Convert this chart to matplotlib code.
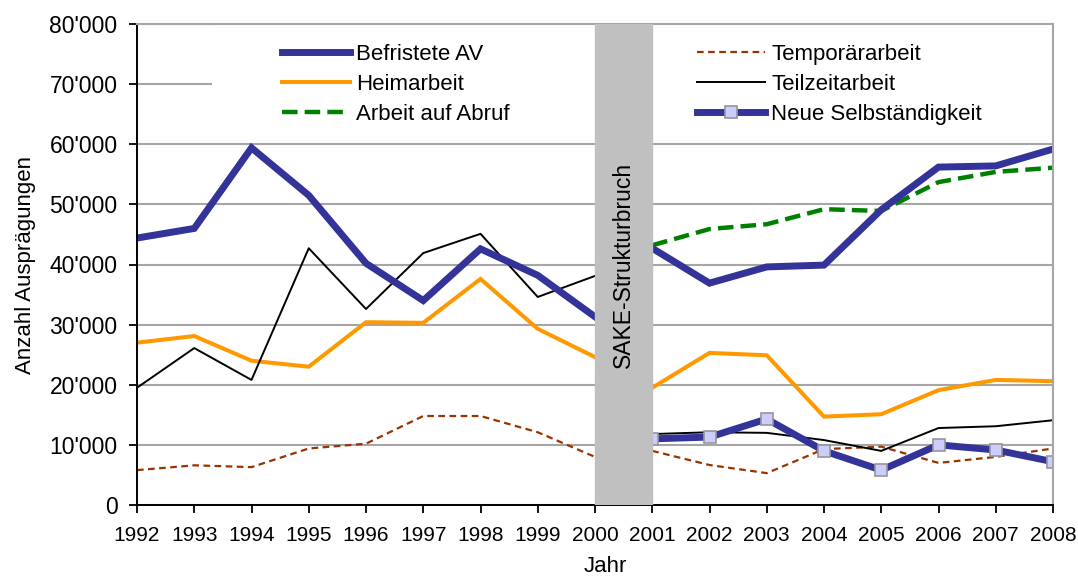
import numpy as np
import matplotlib
matplotlib.use("Agg")
import matplotlib.pyplot as plt
from matplotlib.patches import Rectangle
from matplotlib.ticker import FuncFormatter

plt.rcParams['font.family'] = ['Liberation Sans', 'DejaVu Sans']

# ---------------------------------------------------------
# Data
# ---------------------------------------------------------
years_old = [1992, 1993, 1994, 1995, 1996, 1997, 1998, 1999, 2000]
years_new = [2001, 2002, 2003, 2004, 2005, 2006, 2007, 2008]

befristet_old = [44400, 46000, 59400, 51500, 40200, 34000, 42600, 38200, 31300]
befristet_new = [42700, 36900, 39600, 39900, 49100, 56200, 56400, 59200]

heim_old = [27000, 28100, 24000, 23000, 30400, 30300, 37600, 29300, 24600]
heim_new = [19500, 25300, 24900, 14700, 15100, 19100, 20800, 20600]

abruf_new = [43200, 45900, 46700, 49200, 48900, 53700, 55400, 56100]

temporaer_old = [5800, 6600, 6300, 9400, 10200, 14800, 14800, 12100, 8000]
temporaer_new = [9000, 6650, 5300, 9300, 9700, 7000, 8000, 9400]

teilzeit_old = [19500, 26100, 20800, 42700, 32600, 41900, 45100, 34600, 38100]
teilzeit_new = [11800, 12100, 12000, 10800, 9000, 12800, 13100, 14100]

selbst_new = [11000, 11300, 14300, 9000, 5800, 10000, 9150, 7200]

break_start, break_end = 2000, 2001
break_label = "SAKE-Strukturbruch"

BLUE = "#333399"
ORANGE = "#FF9900"
GREEN = "#008000"
BROWN = "#993300"
GRID = "#A6A6A6"

fig = plt.figure(figsize=(10.78, 5.78), dpi=100)
ax = fig.add_axes([137 / 1078, 1 - 505 / 578, 916 / 1078, 481 / 578])

fs = 16

# Befristete AV
ax.plot(years_old, befristet_old, color=BLUE, lw=5, solid_joinstyle="miter", label="Befristete AV", zorder=2.4)
ax.plot(years_new, befristet_new, color=BLUE, lw=5, solid_joinstyle="miter", zorder=2.4)
# Heimarbeit
ax.plot(years_old, heim_old, color=ORANGE, lw=2.9, solid_joinstyle="miter", label="Heimarbeit", zorder=2.2)
ax.plot(years_new, heim_new, color=ORANGE, lw=2.9, solid_joinstyle="miter", zorder=2.2)
# Arbeit auf Abruf
ax.plot(years_new, abruf_new, color=GREEN, lw=3.2, dashes=(3.5, 1.6), label="Arbeit auf Abruf", zorder=2.3)
# Temporaerarbeit
ax.plot(years_old, temporaer_old, color=BROWN, lw=1.6, dashes=(3, 2), label="Temporärarbeit", zorder=2.1)
ax.plot(years_new, temporaer_new, color=BROWN, lw=1.6, dashes=(3, 2), zorder=2.1)
# Teilzeitarbeit
ax.plot(years_old, teilzeit_old, color="black", lw=1.4, label="Teilzeitarbeit", zorder=2.25)
ax.plot(years_new, teilzeit_new, color="black", lw=1.4, zorder=2.25)
# Neue Selbstaendigkeit
ax.plot(years_new, selbst_new, color=BLUE, lw=5, marker="s", markersize=8,
        markerfacecolor="#CCCCFF", markeredgecolor="#969696", markeredgewidth=1.2,
        label="Neue Selbständigkeit", zorder=2.5)

# structural break band
ax.axvspan(break_start, break_end, color="#C0C0C0", zorder=3)
ax.text((break_start + break_end) / 2, 40000, break_label, rotation=90,
        ha="center", va="center", fontsize=16.5, zorder=4)

# white box behind legend
ax.add_patch(Rectangle((0.082, 0.757), 0.918, 0.24, transform=ax.transAxes,
                       facecolor="white", edgecolor="none", zorder=1))

ax.set_xlim(1992, 2008)
ax.set_ylim(0, 80000)
ax.set_xticks(range(1992, 2009))
ax.set_yticks(range(0, 80001, 10000))
ax.yaxis.set_major_formatter(FuncFormatter(lambda v, p: f"{int(v):,}".replace(",", "'")))
ax.tick_params(axis="both", direction="out", length=6, width=1.3, color="black")
ax.tick_params(axis="x", labelsize=15, pad=9)
ax.tick_params(axis="y", labelsize=16.5, pad=8)

ax.set_axisbelow(True)
ax.yaxis.grid(True, color=GRID, lw=1.5)
for side in ["left", "bottom"]:
    ax.spines[side].set_color("black")
    ax.spines[side].set_linewidth(1.4)
for side in ["top", "right"]:
    ax.spines[side].set_color(GRID)
    ax.spines[side].set_linewidth(1.5)

ax.set_xlabel("Jahr", fontsize=fs)
ax.xaxis.set_label_coords(0.511, -0.105)
ax.set_ylabel("Anzahl Ausprägungen", fontsize=fs, labelpad=10)

handles, labels = ax.get_legend_handles_labels()
leg = ax.legend(handles, labels, ncol=2, loc="upper left", bbox_to_anchor=(0.158, 0.958),
                frameon=False, fontsize=fs, handlelength=3.06, handletextpad=0.3,
                columnspacing=8.4, labelspacing=0.4, borderpad=0, borderaxespad=0)
leg.set_zorder(5)

fig.savefig("out.png", dpi=100)
